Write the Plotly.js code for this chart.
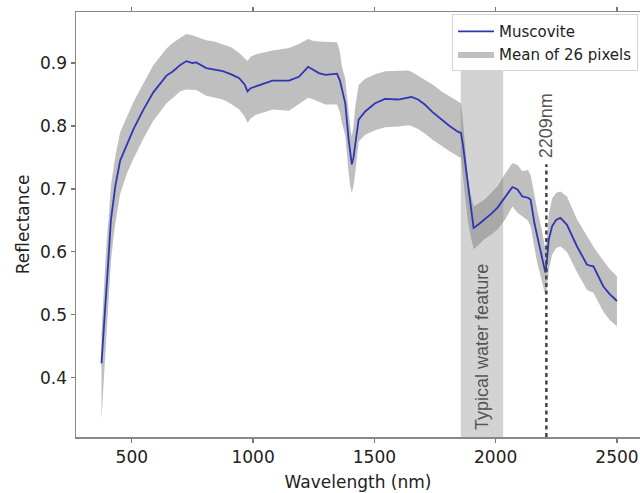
<!DOCTYPE html>
<html>
<head>
<meta charset="utf-8">
<script src="https://cdn.plot.ly/plotly-3.0.1.min.js"></script>
<style>
html,body{margin:0;padding:0;background:#fff;overflow:hidden;}
#chart{width:640px;height:493px;overflow:hidden;}
</style>
</head>
<body>
<div id="chart"></div>
<script>
// Wavelength (nm)
const wavelengths = [375,380,385,392,400,404,414,425,432,452,480,507,548,588,643,670,700,725,750,766,807,840,875,910,943,965,977,990,1012,1050,1080,1148,1189,1227,1250,1271,1298,1346,1358,1366,1380,1394,1400,1407,1414,1421,1435,1462,1503,1544,1598,1639,1653,1680,1708,1740,1776,1810,1844,1857,1865,1875,1885,1897,1909,1930,1953,1980,2007,2040,2069,2090,2110,2133,2144,2160,2171,2190,2205,2212,2219,2233,2250,2267,2294,2335,2376,2390,2403,2444,2470,2500];
// Muscovite reflectance
const muscovite = [0.423,0.450,0.476,0.520,0.570,0.590,0.651,0.685,0.704,0.745,0.772,0.795,0.826,0.853,0.880,0.887,0.897,0.903,0.900,0.901,0.892,0.889,0.887,0.882,0.876,0.866,0.855,0.860,0.863,0.868,0.872,0.872,0.878,0.894,0.889,0.884,0.881,0.883,0.872,0.858,0.836,0.778,0.755,0.739,0.750,0.768,0.810,0.823,0.836,0.843,0.842,0.845,0.846,0.842,0.834,0.822,0.810,0.800,0.791,0.789,0.770,0.740,0.710,0.672,0.638,0.644,0.651,0.660,0.670,0.688,0.703,0.699,0.688,0.686,0.683,0.645,0.625,0.595,0.567,0.590,0.620,0.641,0.651,0.654,0.643,0.609,0.580,0.578,0.577,0.545,0.533,0.522];
// Lower edge of the 26-pixel spread
const lowerBound = [0.335,0.365,0.400,0.450,0.500,0.520,0.585,0.625,0.645,0.692,0.725,0.748,0.780,0.808,0.836,0.845,0.855,0.858,0.857,0.857,0.848,0.845,0.842,0.835,0.826,0.815,0.805,0.812,0.818,0.822,0.826,0.824,0.835,0.845,0.842,0.838,0.834,0.834,0.822,0.805,0.785,0.725,0.705,0.694,0.705,0.725,0.775,0.786,0.793,0.798,0.799,0.801,0.800,0.795,0.788,0.778,0.768,0.760,0.752,0.749,0.720,0.680,0.650,0.625,0.604,0.611,0.620,0.627,0.635,0.652,0.672,0.662,0.657,0.650,0.641,0.605,0.583,0.555,0.530,0.545,0.572,0.596,0.606,0.609,0.600,0.568,0.540,0.537,0.535,0.505,0.492,0.482];
// Upper edge of the 26-pixel spread
const upperBound = [0.470,0.510,0.550,0.590,0.635,0.650,0.705,0.735,0.752,0.790,0.815,0.838,0.868,0.896,0.923,0.932,0.940,0.946,0.944,0.942,0.936,0.934,0.930,0.925,0.916,0.908,0.903,0.910,0.914,0.917,0.920,0.924,0.930,0.938,0.935,0.934,0.934,0.933,0.918,0.895,0.875,0.820,0.800,0.783,0.800,0.830,0.865,0.875,0.882,0.887,0.887,0.888,0.886,0.880,0.874,0.866,0.855,0.847,0.840,0.836,0.810,0.760,0.720,0.690,0.672,0.677,0.683,0.693,0.704,0.725,0.741,0.738,0.728,0.730,0.722,0.690,0.667,0.635,0.604,0.625,0.660,0.685,0.694,0.696,0.688,0.652,0.625,0.615,0.608,0.586,0.573,0.561];

const xTicks = [500, 1000, 1500, 2000, 2500];
const yTicks = [0.4, 0.5, 0.6, 0.7, 0.8, 0.9];
const yTickText = ['0.4', '0.5', '0.6', '0.7', '0.8', '0.9'];
const waterBand = [1856, 2031];
const markerWavelength = 2209;
const markerTop = 0.739;

const traces = [
  {x: wavelengths, y: lowerBound, type: 'scatter', mode: 'lines',
   line: {width: 0, color: 'rgba(0,0,0,0)'}, showlegend: false, hoverinfo: 'skip'},
  {x: wavelengths, y: upperBound, type: 'scatter', mode: 'lines', fill: 'tonexty',
   fillcolor: 'rgba(128,128,128,0.5)', line: {width: 0, color: 'rgba(0,0,0,0)'},
   name: 'Mean of 26 pixels'},
  {x: wavelengths, y: muscovite, type: 'scatter', mode: 'lines',
   line: {color: '#2f36b4', width: 1.8}, name: 'Muscovite'}
];

const layout = {
  width: 640, height: 493,
  margin: {l: 76, r: 0, t: 12, b: 56},
  paper_bgcolor: '#ffffff', plot_bgcolor: '#ffffff',
  font: {family: 'DejaVu Sans', size: 17, color: '#222'},
  showlegend: true,
  legend: {x: 0.9965, xanchor: 'right', y: 0.995, yanchor: 'top', traceorder: 'reversed',
    bgcolor: '#ffffff', bordercolor: '#d4d4d4', borderwidth: 1, itemwidth: 36,
    font: {family: 'DejaVu Sans', size: 15, color: '#222'}, tracegroupgap: 0},
  xaxis: {range: [270, 2595], tickvals: xTicks, ticks: 'outside', ticklen: 4,
    tickcolor: '#777', tickwidth: 1.2, showline: true, linecolor: '#888', linewidth: 1.5,
    mirror: 'ticks', showgrid: false, zeroline: false, ticklabeloverflow: 'allow',
    tickfont: {size: 17, color: '#222'},
    title: {text: 'Wavelength (nm)', font: {size: 17, color: '#222'}, standoff: 10}},
  yaxis: {range: [0.306, 0.981], tickvals: yTicks, ticktext: yTickText, ticks: 'outside', ticklen: 4,
    tickcolor: '#777', tickwidth: 1.2, showline: true, linecolor: '#888', linewidth: 1.5,
    showgrid: false, zeroline: false,
    tickfont: {size: 17, color: '#222'},
    title: {text: 'Reflectance', font: {size: 17, color: '#222'}, standoff: 6}},
  shapes: [
    {type: 'rect', xref: 'x', yref: 'y domain', x0: waterBand[0], x1: waterBand[1], y0: 0, y1: 0.862,
     fillcolor: 'rgba(128,128,128,0.35)', line: {width: 0}, layer: 'below'},
    {type: 'line', xref: 'x', yref: 'y domain', x0: markerWavelength, x1: markerWavelength, y0: 0, y1: (markerTop - 0.306) / (0.981 - 0.306),
     line: {color: '#444', width: 2.5, dash: '4px,3.5px'}}
  ],
  annotations: [
    {x: (waterBand[0] + waterBand[1]) / 2, y: 0.449, xref: 'x', yref: 'y', text: 'Typical water feature',
     textangle: -90, showarrow: false, font: {family: 'Liberation Sans', size: 18, color: '#555'}},
    {x: markerWavelength, y: 0.80, xref: 'x', yref: 'y', text: markerWavelength + 'nm',
     textangle: -90, showarrow: false, font: {family: 'Liberation Sans', size: 18, color: '#555'}}
  ]
};

Plotly.newPlot('chart', traces, layout, {displayModeBar: false, staticPlot: true});
</script>
</body>
</html>
